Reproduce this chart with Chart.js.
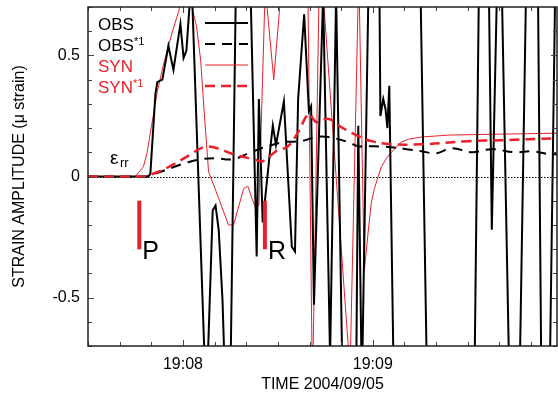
<!DOCTYPE html>
<html>
<head>
<meta charset="utf-8">
<script src="https://cdn.jsdelivr.net/npm/chart.js@4.4.1/dist/chart.umd.min.js"></script>
<style>
	html, body { margin: 0; padding: 0; background: #fff; }
</style>
</head>
<body>
<canvas id="strainChart" width="558" height="396"></canvas>
<script>
'use strict'

// time axis: seconds after 19:07:00
const xTickValues = [60, 120];
const xTickLabels = ['19:08', '19:09'];
const yTickValues = [-0.5, 0, 0.5];
const yTickLabels = ['-0.5', '0', '0.5'];

// OBS, raw strain (off-scale swings clipped by the frame)
const obsTime = [30, 49.0, 49.7, 51.3, 51.9, 53.5, 55.4, 57.0, 59.2, 60.2, 61.1, 62.1, 62.5, 66.8, 67.5, 69.4, 70.3, 71.3, 72.5, 73.2,
	75.1, 76.7, 81.4, 83.3, 84.0, 85.2, 87.8, 88.4, 89.4, 91.9, 94.4, 95.4, 96.4, 98.3, 99.8, 100.5, 101.4, 104.3, 106.5, 108.4,
	110.3, 114.8, 115.4, 116.4, 116.7, 118.6, 122.1, 122.4, 123.3, 124.0, 124.6, 125.2, 126.5, 130.0, 135.1, 137.0, 152.2, 153.5, 156.7, 157.6,
	159.2, 160.8, 163.0, 166.5, 168.4, 172.2, 173.2, 176.0, 177.6, 178.2];
const obsStrain = [0, 0, 0.01, 0.34, 0.39, 0.40, 0.54, 0.44, 0.63, 0.49, 0.52, 0.71, 0.90, -0.74, -0.90, -0.14, -0.12, -0.22, -0.51, -0.80,
	-0.75, 0.75, 0.75, -0.33, 0.32, -0.19, 0.14, 0.21, 0.13, 0.31, -0.29, -0.31, 0.32, 0.67, 0.27, 0.29, -0.53, 0.75, -0.75, 0.75,
	-0.75, -0.75, 0.21, -0.75, -0.75, 0.75, 0.75, 0.25, 0.32, 0.28, 0.20, 0.375, -0.75, null, 0.75, -0.75, -0.75, 0.75, 0.75, -0.22,
	0.75, 0.75, -0.75, -0.75, 0.75, 0.75, -0.75, -0.75, 0.75, 0.75];

// OBS*1
const obsSmoothTime = [30, 49.0, 50.6, 56.7, 61.4, 65.6, 70.3, 75.7, 81.4, 86.8, 91.9, 97.3, 102.1, 105.9, 112.2, 115.4, 120.5, 125.9, 130.6, 135.4,
	140.2, 144.9, 151.3, 157.6, 164.9, 170.3, 175.7, 178.2];
const obsSmoothStrain = [0, 0, 0.008, 0.037, 0.058, 0.071, 0.075, 0.071, 0.100, 0.125, 0.142, 0.146, 0.163, 0.163, 0.142, 0.125, 0.125, 0.121, 0.113, 0.104,
	0.096, 0.117, 0.100, 0.113, 0.100, 0.104, 0.092, 0.092];

// SYN
const synTime = [30, 44.9, 47.5, 48.7, 49.7, 51.9, 53.8, 56.7, 58.6, 60.8, 62.4, 64.3, 65.6, 66.8, 68.1, 71.0, 74.4, 76.0, 79.2, 80.5,
	81.8, 83.0, 84.0, 86.0, 88.7, 90.9, 99.5, 100.8, 101.1, 103.0, 104.3, 112.5, 112.9, 115.4, 115.7, 117.3, 118.6, 119.5, 120.5, 121.7,
	122.7, 124.3, 125.9, 129.0, 131.3, 135.4, 144.0, 160.8, 178.2];
const synStrain = [0, 0, 0.04, 0.10, 0.18, 0.35, 0.46, 0.60, 0.68, 0.80, 0.72, 0.62, 0.48, 0.25, 0.02, -0.08, -0.20, -0.20, -0.05, -0.04,
	-0.09, -0.13, -0.12, 0.78, 0.40, 0.75, 0.75, -0.75, -0.75, 0.75, 0.75, -0.75, -0.75, 0.75, 0.75, -0.39, -0.22, -0.11, -0.05, 0.0,
	0.04, 0.075, 0.10, 0.142, 0.154, 0.163, 0.171, 0.175, 0.179];

// SYN*1
const synSmoothTime = [30, 46.5, 48.7, 55.1, 61.4, 66.5, 69.7, 76.0, 82.4, 85.2, 89.4, 93.2, 96.4, 99.8, 102.1, 105.9, 110.0, 115.4, 119.5, 125.9,
	135.4, 150.3, 160.8, 178.2];
const synSmoothStrain = [0, 0, 0.003, 0.037, 0.083, 0.121, 0.121, 0.092, 0.071, 0.063, 0.104, 0.125, 0.183, 0.258, 0.225, 0.238, 0.204, 0.167, 0.146, 0.133,
	0.133, 0.146, 0.150, 0.158];

// phase picks
const phaseLabels = ['P', 'R'];
const phaseTimes = [46.2, 85.9];
const phaseBar = [-0.10, -0.30];

const FONT = '"Liberation Sans", Arial, Helvetica, sans-serif';
const RED = '#e8202a';

const toPoints = (xs, ys) => xs.map((x, i) => ({ x: x, y: ys[i] }));

let datasets = [
	{ label: 'SYN*1', data: toPoints(synSmoothTime, synSmoothStrain), borderColor: RED, borderWidth: 2.5, borderDash: [10, 6], tension: 0.4, order: 0 },
	{ label: 'OBS*1', data: toPoints(obsSmoothTime, obsSmoothStrain), borderColor: '#000', borderWidth: 2, borderDash: [10, 7], tension: 0.4, order: 1 },
	{ label: 'OBS', data: toPoints(obsTime, obsStrain), borderColor: '#000', borderWidth: 2, order: 3 },
	{ label: 'SYN', data: toPoints(synTime, synStrain), borderColor: RED, borderWidth: 1, order: 4 },
];
phaseTimes.forEach((t, i) => {
	datasets.push({
		label: 'pick ' + phaseLabels[i],
		data: phaseBar.map(v => ({ x: t, y: v })),
		borderColor: RED,
		borderWidth: 4,
		borderCapStyle: 'butt',
		order: 2,
	});
});

const legendOrder = ['OBS', 'OBS*1', 'SYN', 'SYN*1'];

const framePlugin = {
	id: 'frame',
	beforeDatasetsDraw(chart) {
		const { ctx, chartArea: { left, right }, scales: { y } } = chart;
		const y0 = Math.round(y.getPixelForValue(0)) + 0.5;
		ctx.save();
		ctx.strokeStyle = '#000';
		ctx.lineWidth = 1;
		ctx.setLineDash([1.5, 1.5]);
		ctx.beginPath();
		ctx.moveTo(left, y0);
		ctx.lineTo(right, y0);
		ctx.stroke();
		ctx.restore();
	},
	afterDraw(chart) {
		const { ctx, chartArea: { top, bottom, left, right }, scales: { x, y } } = chart;
		ctx.save();

		// inward ticks on all four sides
		ctx.strokeStyle = '#444';
		ctx.lineWidth = 1;
		ctx.beginPath();
		for (let s = 30; s <= x.max + 0.01; s += 10) {
			const px = Math.round(x.getPixelForValue(s)) + 0.5;
			const len = s % 60 === 0 ? 6 : 4;
			ctx.moveTo(px, bottom); ctx.lineTo(px, bottom - len);
			ctx.moveTo(px, top); ctx.lineTo(px, top + len);
		}
		for (let k = -7; k <= 7; k++) {
			const py = Math.round(y.getPixelForValue(k / 10)) + 0.5;
			const len = k % 5 === 0 ? 6 : 4;
			ctx.moveTo(left, py); ctx.lineTo(left + len, py);
			ctx.moveTo(right, py); ctx.lineTo(right - len, py);
		}
		ctx.stroke();

		ctx.strokeStyle = '#222';
		ctx.lineWidth = 1.5;
		ctx.strokeRect(left, top, right - left, bottom - top);

		// legend
		ctx.textBaseline = 'alphabetic';
		ctx.textAlign = 'left';
		legendOrder.forEach((name, i) => {
			const ds = chart.data.datasets.find(d => d.label === name);
			const base = top + 23 + i * 21;
			const parts = name.split('*');
			ctx.fillStyle = ds.borderColor;
			ctx.font = '17px ' + FONT;
			ctx.fillText(parts[0], left + 10, base);
			if (parts[1]) {
				const w = ctx.measureText(parts[0]).width;
				ctx.font = '11px ' + FONT;
				ctx.fillText('*' + parts[1], left + 10 + w, base - 6);
			}
			ctx.strokeStyle = ds.borderColor;
			ctx.lineWidth = ds.borderWidth;
			ctx.setLineDash(ds.borderDash || []);
			ctx.beginPath();
			ctx.moveTo(left + 117, base - 7);
			ctx.lineTo(left + 160, base - 7);
			ctx.stroke();
			ctx.setLineDash([]);
		});

		// phase labels
		ctx.fillStyle = '#000';
		ctx.font = '25px ' + FONT;
		phaseTimes.forEach((t, i) => {
			ctx.fillText(phaseLabels[i], x.getPixelForValue(t) + 3, y.getPixelForValue(phaseBar[1]) + 10);
		});

		// component label
		ctx.font = '19px ' + FONT;
		ctx.fillText('\u03b5', left + 22, y.getPixelForValue(0) - 13);
		ctx.font = '13px ' + FONT;
		ctx.fillText('rr', left + 32, y.getPixelForValue(0) - 10);

		ctx.restore();
	},
};

new Chart(document.getElementById('strainChart'), {
	type: 'line',
	data: { datasets: datasets },
	options: {
		responsive: false,
		animation: false,
		events: [],
		layout: { padding: { top: 7, right: 1, left: 0, bottom: 0 } },
		elements: { point: { radius: 0 } },
		plugins: {
			legend: { display: false },
			tooltip: { enabled: false },
		},
		scales: {
			x: {
				type: 'linear',
				min: 30,
				max: 178.2,
				grid: { display: false, drawTicks: false },
				border: { display: false },
				afterBuildTicks: (scale) => { scale.ticks = xTickValues.map(v => ({ value: v })); },
				afterFit: (scale) => { scale.height = 50; scale.paddingLeft = 0; scale.paddingRight = 0; },
				ticks: {
					padding: 9,
					maxRotation: 0,
					autoSkip: false,
					color: '#000',
					font: { family: FONT, size: 16 },
					callback: (value, index) => xTickLabels[index],
				},
				title: {
					display: true,
					text: 'TIME 2004/09/05',
					color: '#000',
					font: { family: FONT, size: 16 },
					padding: { top: 0, bottom: 2 },
				},
			},
			y: {
				min: -0.7,
				max: 0.7,
				grid: { display: false, drawTicks: false },
				border: { display: false },
				afterBuildTicks: (scale) => { scale.ticks = yTickValues.map(v => ({ value: v })); },
				afterFit: (scale) => { scale.width = 88; scale.paddingTop = 0; scale.paddingBottom = 0; },
				ticks: {
					padding: 8,
					color: '#000',
					font: { family: FONT, size: 16 },
					callback: (value, index) => yTickLabels[index],
				},
				title: {
					display: true,
					text: 'STRAIN AMPLITUDE (\u03bc strain)',
					color: '#000',
					font: { family: FONT, size: 16 },
					padding: { top: 10, bottom: 0 },
				},
			},
		},
	},
	plugins: [framePlugin],
});
</script>
</body>
</html>
